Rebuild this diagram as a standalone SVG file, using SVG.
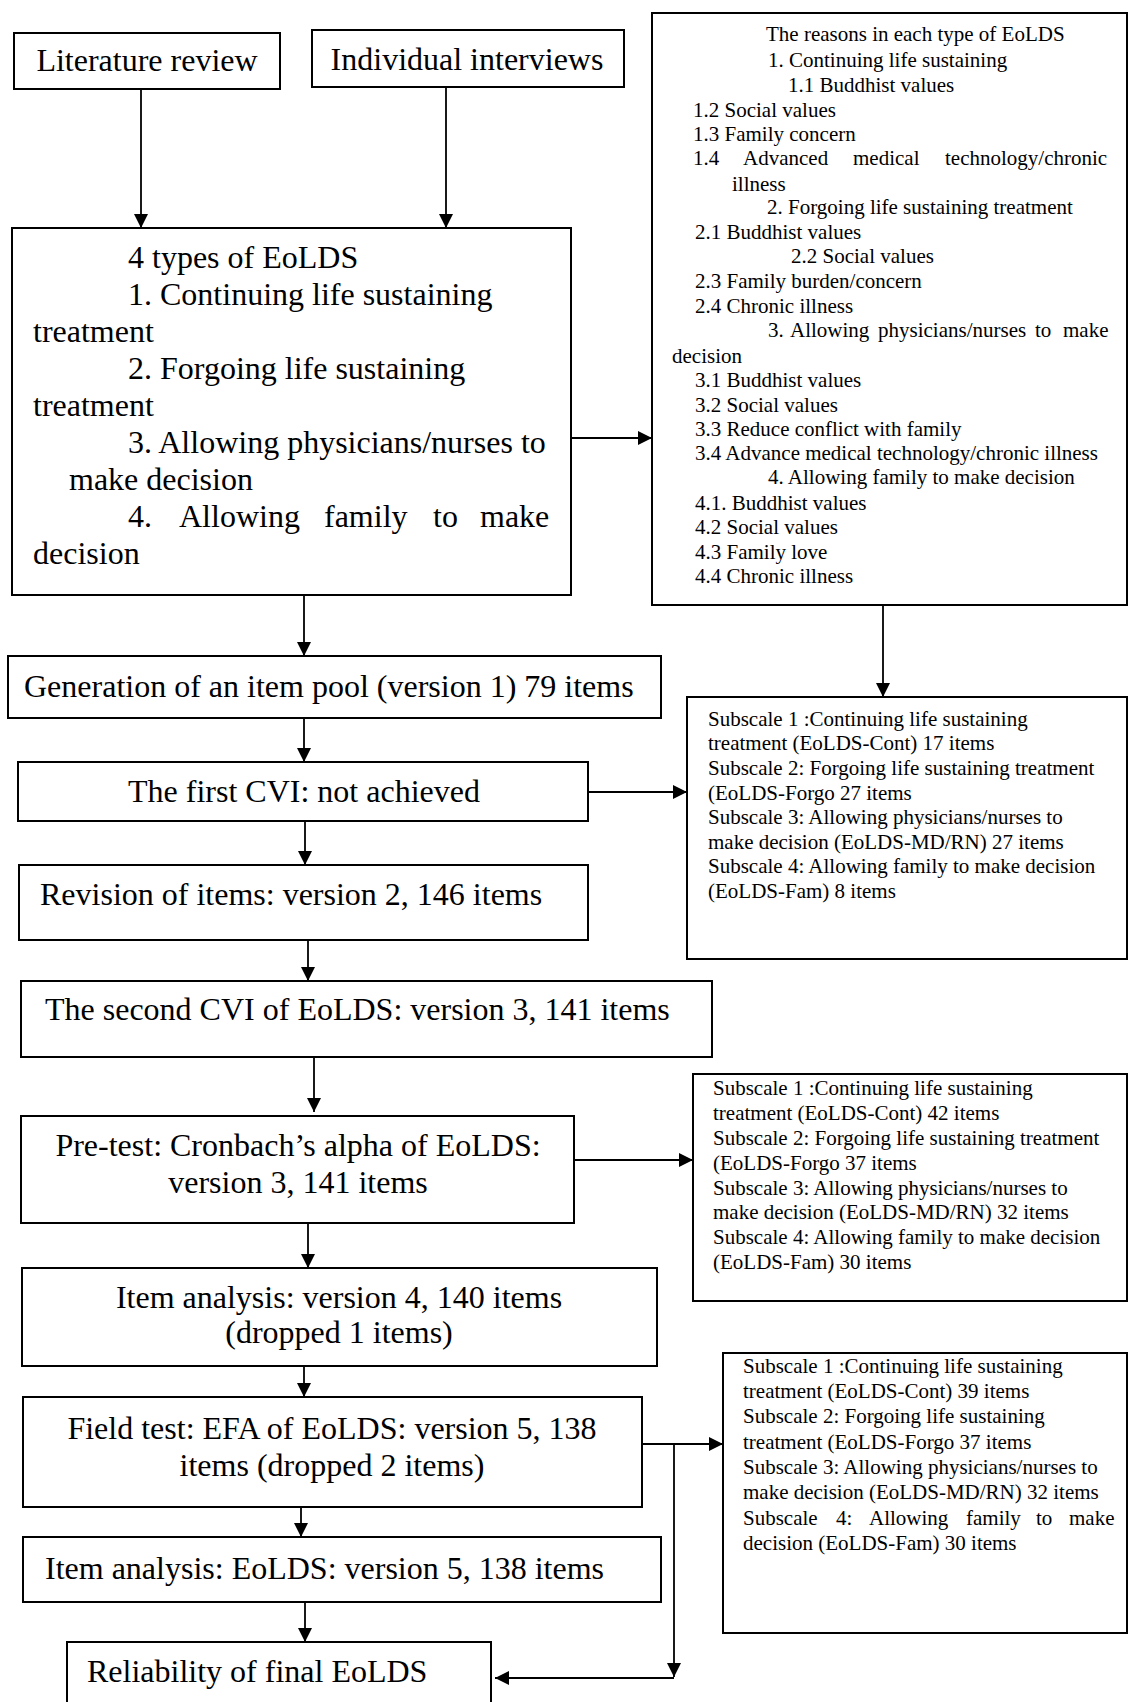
<svg xmlns="http://www.w3.org/2000/svg" width="1129" height="1702" viewBox="0 0 1129 1702">
<style>
.box{fill:#fff;stroke:#000;stroke-width:2}
.big{font-family:"Liberation Serif","Times New Roman",serif;font-size:32px;fill:#000}
.sm{font-family:"Liberation Serif","Times New Roman",serif;font-size:21px;fill:#000}
.c{text-anchor:middle}
.con line,.con path{stroke:#000;stroke-width:1.8;fill:none}
</style>
<defs>
<marker id="ah" markerUnits="userSpaceOnUse" markerWidth="14" markerHeight="14" viewBox="0 0 14 14" refX="14" refY="7" orient="auto">
<path d="M0,0 L14,7 L0,14 z" fill="#000"/>
</marker>
</defs>
<rect width="1129" height="1702" fill="#fff"/>

<g id="n-lit"><rect class="box" x="14" y="33" width="266" height="56"/><text class="big c" x="147" y="71">Literature review</text></g>
<g id="n-ind"><rect class="box" x="312" y="30" width="312" height="57"/><text class="big c" x="467" y="70">Individual interviews</text></g>

<g id="n-types"><rect class="box" x="12" y="228" width="559" height="367"/>
<text class="big" x="128" y="268">4 types of EoLDS</text>
<text class="big" x="128" y="305">1. Continuing life sustaining</text>
<text class="big" x="33" y="342">treatment</text>
<text class="big" x="128" y="379">2. Forgoing life sustaining</text>
<text class="big" x="33" y="416">treatment</text>
<text class="big" x="128" y="453">3. Allowing physicians/nurses to</text>
<text class="big" x="69" y="490">make decision</text>
<text class="big" y="527"><tspan x="128">4.</tspan> <tspan x="179">Allowing</tspan> <tspan x="324">family</tspan> <tspan x="433">to</tspan> <tspan x="480">make</tspan></text>
<text class="big" x="33" y="564">decision</text>
</g>

<g id="n-reasons"><rect class="box" x="652" y="13" width="475" height="592"/>
<text class="sm" x="766" y="41">The reasons in each type of EoLDS</text>
<text class="sm" x="768" y="67">1. Continuing life sustaining</text>
<text class="sm" x="788" y="92">1.1 Buddhist values</text>
<text class="sm" x="693" y="117">1.2 Social values</text>
<text class="sm" x="693" y="141">1.3 Family concern</text>
<text class="sm" y="165"><tspan x="693">1.4</tspan> <tspan x="743">Advanced</tspan> <tspan x="853">medical</tspan> <tspan x="945">technology/chronic</tspan></text>
<text class="sm" x="732" y="191">illness</text>
<text class="sm" x="767" y="214">2. Forgoing life sustaining treatment</text>
<text class="sm" x="695" y="239">2.1 Buddhist values</text>
<text class="sm" x="791" y="263">2.2 Social values</text>
<text class="sm" x="695" y="288">2.3 Family burden/concern</text>
<text class="sm" x="695" y="313">2.4 Chronic illness</text>
<text class="sm" y="337"><tspan x="768">3.</tspan> <tspan x="790">Allowing</tspan> <tspan x="878">physicians/nurses</tspan> <tspan x="1035">to</tspan> <tspan x="1063">make</tspan></text>
<text class="sm" x="672" y="363">decision</text>
<text class="sm" x="695" y="387">3.1 Buddhist values</text>
<text class="sm" x="695" y="412">3.2 Social values</text>
<text class="sm" x="695" y="436">3.3 Reduce conflict with family</text>
<text class="sm" x="695" y="460">3.4 Advance medical technology/chronic illness</text>
<text class="sm" x="768" y="484">4. Allowing family to make decision</text>
<text class="sm" x="695" y="510">4.1. Buddhist values</text>
<text class="sm" x="695" y="534">4.2 Social values</text>
<text class="sm" x="695" y="559">4.3 Family love</text>
<text class="sm" x="695" y="583">4.4 Chronic illness</text>
</g>

<g id="n-gen"><rect class="box" x="8" y="656" width="653" height="62"/><text class="big" x="24" y="697">Generation of an item pool (version 1) 79 items</text></g>
<g id="n-cvi1"><rect class="box" x="18" y="762" width="570" height="59"/><text class="big c" x="304" y="802">The first CVI: not achieved</text></g>
<g id="n-rev"><rect class="box" x="19" y="865" width="569" height="75"/><text class="big" x="40" y="905">Revision of items: version 2, 146 items</text></g>
<g id="n-cvi2"><rect class="box" x="21" y="981" width="691" height="76"/><text class="big" x="45" y="1020">The second CVI of EoLDS: version 3, 141 items</text></g>

<g id="n-sub1"><rect class="box" x="687" y="697" width="440" height="262"/>
<text class="sm" x="708" y="726">Subscale 1 :Continuing life sustaining</text>
<text class="sm" x="708" y="750">treatment (EoLDS-Cont) 17 items</text>
<text class="sm" x="708" y="775">Subscale 2: Forgoing life sustaining treatment</text>
<text class="sm" x="708" y="800">(EoLDS-Forgo 27 items</text>
<text class="sm" x="708" y="824">Subscale 3: Allowing physicians/nurses to</text>
<text class="sm" x="708" y="849">make decision (EoLDS-MD/RN) 27 items</text>
<text class="sm" x="708" y="873">Subscale 4: Allowing family to make decision</text>
<text class="sm" x="708" y="898">(EoLDS-Fam) 8 items</text>
</g>

<g id="n-pre"><rect class="box" x="21" y="1116" width="553" height="107"/>
<text class="big c" x="298" y="1156">Pre-test: Cronbach’s alpha of EoLDS:</text>
<text class="big c" x="298" y="1193">version 3, 141 items</text>
</g>

<g id="n-sub2"><rect class="box" x="693" y="1074" width="434" height="227"/>
<text class="sm" x="713" y="1095">Subscale 1 :Continuing life sustaining</text>
<text class="sm" x="713" y="1120">treatment (EoLDS-Cont) 42 items</text>
<text class="sm" x="713" y="1145">Subscale 2: Forgoing life sustaining treatment</text>
<text class="sm" x="713" y="1170">(EoLDS-Forgo 37 items</text>
<text class="sm" x="713" y="1195">Subscale 3: Allowing physicians/nurses to</text>
<text class="sm" x="713" y="1219">make decision (EoLDS-MD/RN) 32 items</text>
<text class="sm" x="713" y="1244">Subscale 4: Allowing family to make decision</text>
<text class="sm" x="713" y="1269">(EoLDS-Fam) 30 items</text>
</g>

<g id="n-item1"><rect class="box" x="22" y="1268" width="635" height="98"/>
<text class="big c" x="339" y="1308">Item analysis: version 4, 140 items</text>
<text class="big c" x="339" y="1343">(dropped 1 items)</text>
</g>

<g id="n-field"><rect class="box" x="23" y="1397" width="619" height="110"/>
<text class="big c" x="332" y="1439">Field test: EFA of EoLDS: version 5, 138</text>
<text class="big c" x="332" y="1476">items (dropped 2 items)</text>
</g>

<g id="n-sub3"><rect class="box" x="723" y="1353" width="404" height="280"/>
<text class="sm" x="743" y="1373">Subscale 1 :Continuing life sustaining</text>
<text class="sm" x="743" y="1398">treatment (EoLDS-Cont) 39 items</text>
<text class="sm" x="743" y="1423">Subscale 2: Forgoing life sustaining</text>
<text class="sm" x="743" y="1449">treatment (EoLDS-Forgo 37 items</text>
<text class="sm" x="743" y="1474">Subscale 3: Allowing physicians/nurses to</text>
<text class="sm" x="743" y="1499">make decision (EoLDS-MD/RN) 32 items</text>
<text class="sm" y="1525"><tspan x="743">Subscale</tspan> <tspan x="836">4:</tspan> <tspan x="869">Allowing</tspan> <tspan x="966">family</tspan> <tspan x="1036">to</tspan> <tspan x="1069">make</tspan></text>
<text class="sm" x="743" y="1550">decision (EoLDS-Fam) 30 items</text>
</g>

<g id="n-item2"><rect class="box" x="23" y="1537" width="638" height="65"/><text class="big" x="45" y="1579">Item analysis: EoLDS: version 5, 138 items</text></g>
<g id="n-rel"><rect class="box" x="67" y="1642" width="424" height="80"/><text class="big" x="87" y="1682">Reliability of final EoLDS</text></g>

<g id="connectors" class="con">
<line x1="141" y1="89" x2="141" y2="228" marker-end="url(#ah)"/>
<line x1="446" y1="87" x2="446" y2="228" marker-end="url(#ah)"/>
<line x1="571" y1="438" x2="652" y2="438" marker-end="url(#ah)"/>
<line x1="304" y1="595" x2="304" y2="656" marker-end="url(#ah)"/>
<line x1="883" y1="605" x2="883" y2="697" marker-end="url(#ah)"/>
<line x1="304" y1="718" x2="304" y2="762" marker-end="url(#ah)"/>
<line x1="588" y1="792" x2="687" y2="792" marker-end="url(#ah)"/>
<line x1="305" y1="821" x2="305" y2="865" marker-end="url(#ah)"/>
<line x1="308" y1="940" x2="308" y2="981" marker-end="url(#ah)"/>
<line x1="314" y1="1057" x2="314" y2="1112" marker-end="url(#ah)"/>
<line x1="574" y1="1160" x2="693" y2="1160" marker-end="url(#ah)"/>
<line x1="308" y1="1223" x2="308" y2="1268" marker-end="url(#ah)"/>
<line x1="304" y1="1366" x2="304" y2="1397" marker-end="url(#ah)"/>
<line x1="642" y1="1444" x2="723" y2="1444" marker-end="url(#ah)"/>
<line x1="301" y1="1507" x2="301" y2="1537" marker-end="url(#ah)"/>
<line x1="305" y1="1602" x2="305" y2="1642" marker-end="url(#ah)"/>
<line x1="674" y1="1444" x2="674" y2="1677" marker-end="url(#ah)"/>
<line x1="674" y1="1678" x2="495" y2="1678" marker-end="url(#ah)"/>
</g>
</svg>
